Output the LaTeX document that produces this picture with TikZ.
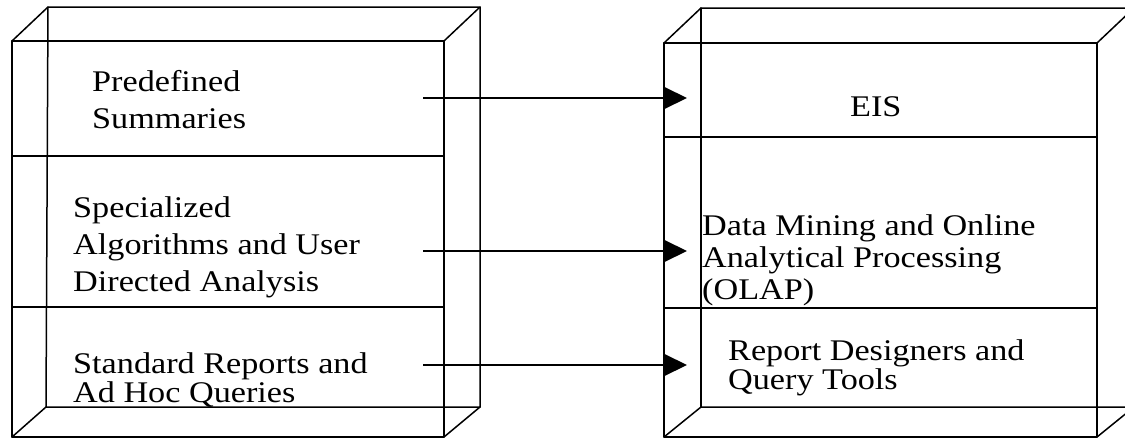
\documentclass[tikz,border=0pt]{standalone}
\usepackage{fontspec}
\setmainfont{Liberation Serif}[FakeStretch=1.14]
\usetikzlibrary{arrows.meta}
\begin{document}
\begin{tikzpicture}[x=1pt,y=-1pt,
  edge/.style={line width=1.5pt, line join=round, line cap=round},
  flow/.style={line width=2pt, -{Triangle[length=23pt,width=22pt]}},
  txt/.style={font=\fontsize{30pt}{#1}\selectfont, inner sep=0pt, anchor=north west, align=left},
  txt/.default=37pt]
\useasboundingbox (0,0) rectangle (1125,442);
\clip (0,0) rectangle (1125,442);
% ---- left box ----
\coordinate (Lftl) at (12,41);  \coordinate (Lftr) at (444,41);
\coordinate (Lfbl) at (12,437); \coordinate (Lfbr) at (444,437);
\coordinate (Lbtl) at (48,7);   \coordinate (Lbtr) at (480,7);
\coordinate (Lbbl) at (46,407); \coordinate (Lbbr) at (480,407);
\draw[edge] (Lftl) rectangle (Lfbr);
\draw[edge] (Lftl) -- (Lbtl) -- (Lbtr) -- (Lftr);
\draw[edge] (Lbtr) -- (Lbbr) -- (Lfbr);
\draw[edge] (Lfbl) -- (Lbbl) -- (Lbbr);
\draw[edge] (Lbtl) -- (Lbbl);
\coordinate (Ld1l) at (12,156); \coordinate (Ld1r) at (444,156);
\coordinate (Ld2l) at (12,307); \coordinate (Ld2r) at (444,307);
\draw[edge] (Ld1l) -- (Ld1r);
\draw[edge] (Ld2l) -- (Ld2r);
% ---- right box ----
\coordinate (Rftl) at (664,43);  \coordinate (Rftr) at (1097,43);
\coordinate (Rfbl) at (664,437); \coordinate (Rfbr) at (1097,437);
\coordinate (Rbtl) at (701,8);   \coordinate (Rbtr) at (1134,8);
\coordinate (Rbbl) at (701,407); \coordinate (Rbbr) at (1134,407);
\draw[edge] (Rftl) rectangle (Rfbr);
\draw[edge] (Rftl) -- (Rbtl) -- (Rbtr);
\draw[edge] (Rftr) -- (Rbtr);
\draw[edge] (Rfbr) -- (Rbbr);
\draw[edge] (Rfbl) -- (Rbbl) -- (Rbbr);
\draw[edge] (Rbtl) -- (Rbbl);
\coordinate (Rd1l) at (664,137); \coordinate (Rd1r) at (1097,137);
\coordinate (Rd2l) at (664,308); \coordinate (Rd2r) at (1097,308);
\draw[edge] (Rd1l) -- (Rd1r);
\draw[edge] (Rd2l) -- (Rd2r);
% ---- texts ----
\node[txt] (pre) at (92,70) {Predefined\\Summaries};
\node[txt] (spe) at (73,196) {Specialized\\Algorithms and User\\Directed Analysis};
\node[txt=29.5pt] (std) at (73,352) {Standard Reports and\\Ad Hoc Queries};
\node[txt] (eis) at (850,96) {EIS};
\node[txt=32pt] (dm) at (702,214) {Data Mining and Online\\Analytical Processing\\(OLAP)};
\node[txt=29pt] (rep) at (728,339) {Report Designers and\\Query Tools};
% ---- connectors ----
\coordinate (a1s) at (423,98);  \coordinate (a1e) at (687,98);
\coordinate (a2s) at (423,251); \coordinate (a2e) at (687,251);
\coordinate (a3s) at (423,365); \coordinate (a3e) at (687,365);
\draw[flow] (a1s) -- (a1e);
\draw[flow] (a2s) -- (a2e);
\draw[flow] (a3s) -- (a3e);
\end{tikzpicture}
\end{document}
